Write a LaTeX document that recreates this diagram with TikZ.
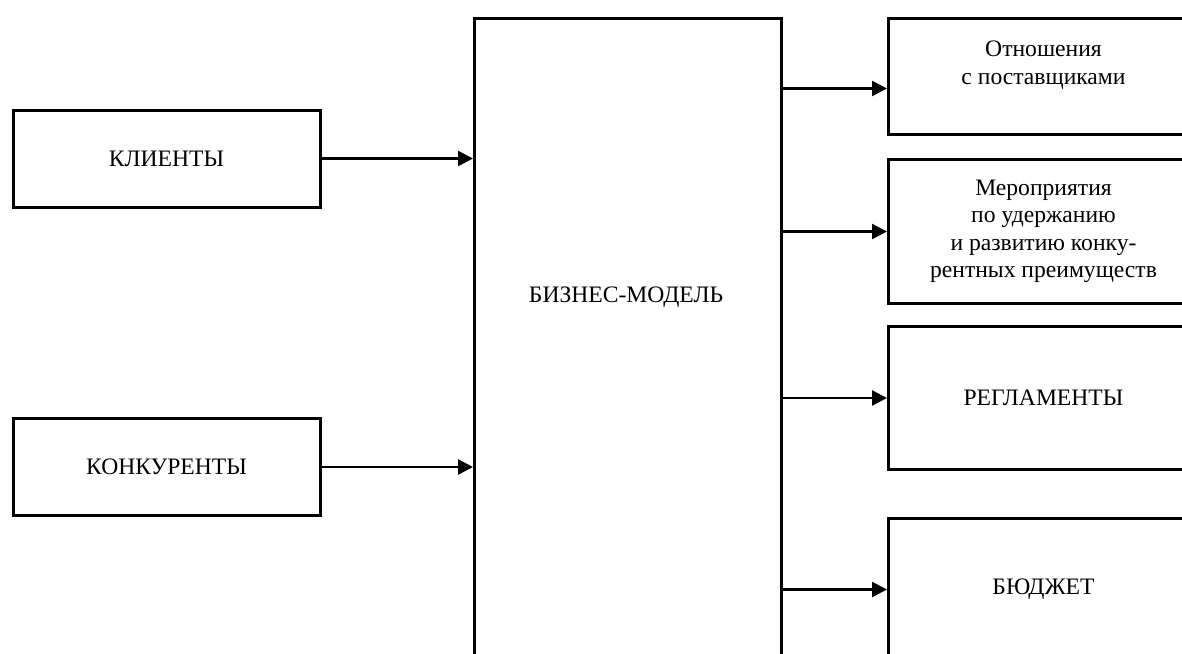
\documentclass[tikz,border=0pt]{standalone}
\usepackage{fontspec}
\setmainfont{Liberation Serif}
\usetikzlibrary{arrows.meta,positioning}
\tikzset{
  blok/.style={draw,line width=1.5pt,inner sep=0pt,align=center,font=\fontsize{11.8}{13.75}\selectfont},
  pravblok/.style={blok,anchor=north west,minimum width=155pt},
  strelka/.style={-{Triangle[length=7.5pt,width=7.5pt]},line width=1.2pt},
}

\begin{document}
\begin{tikzpicture}[x=0.5pt,y=-0.5pt]
\useasboundingbox (0,0) rectangle (1182,653);
\clip (0,0) rectangle (1182,653);
% левые блоки
\node[blok,minimum width=153.5pt,minimum height=48.5pt] (klienty) at (166.5,158.5) {КЛИЕНТЫ};
\node[blok,minimum width=153.5pt,minimum height=48.5pt] (konkurenty) at (166.5,467) {КОНКУРЕНТЫ};
% бизнес-модель
\node[blok,anchor=north west,minimum width=153.5pt,minimum height=360pt] (model) at (473,17) {};
\node[font=\fontsize{11.8}{13.75}\selectfont] (modeltekst) at (626,297) {БИЗНЕС-МОДЕЛЬ};
% правые блоки
\node[pravblok,minimum height=58pt] (otnosheniya) at (887,17) {Отношения\\с поставщиками\\\mbox{}};
\node[pravblok,minimum height=72pt] (meropriyatiya) at (887,158) {Мероприятия\\по удержанию\\и развитию конку-\\рентных преимуществ};
\node[pravblok,minimum height=71.5pt] (reglamenty) at (887,325) {РЕГЛАМЕНТЫ};
\node[pravblok,minimum height=71pt] (byudzhet) at (887,517) {БЮДЖЕТ};
\coordinate (otnvhod) at ([yshift=-6pt]otnosheniya.west);
% стрелки
\draw[strelka] (klienty.east) -- (klienty.east -| model.west);
\draw[strelka] (konkurenty.east) -- (konkurenty.east -| model.west);
\draw[strelka] (model.east |- otnvhod) -- (otnvhod);
\draw[strelka] (model.east |- meropriyatiya.west) -- (meropriyatiya.west);
\draw[strelka] (model.east |- reglamenty.west) -- (reglamenty.west);
\draw[strelka] (model.east |- byudzhet.west) -- (byudzhet.west);
\end{tikzpicture}
\end{document}
